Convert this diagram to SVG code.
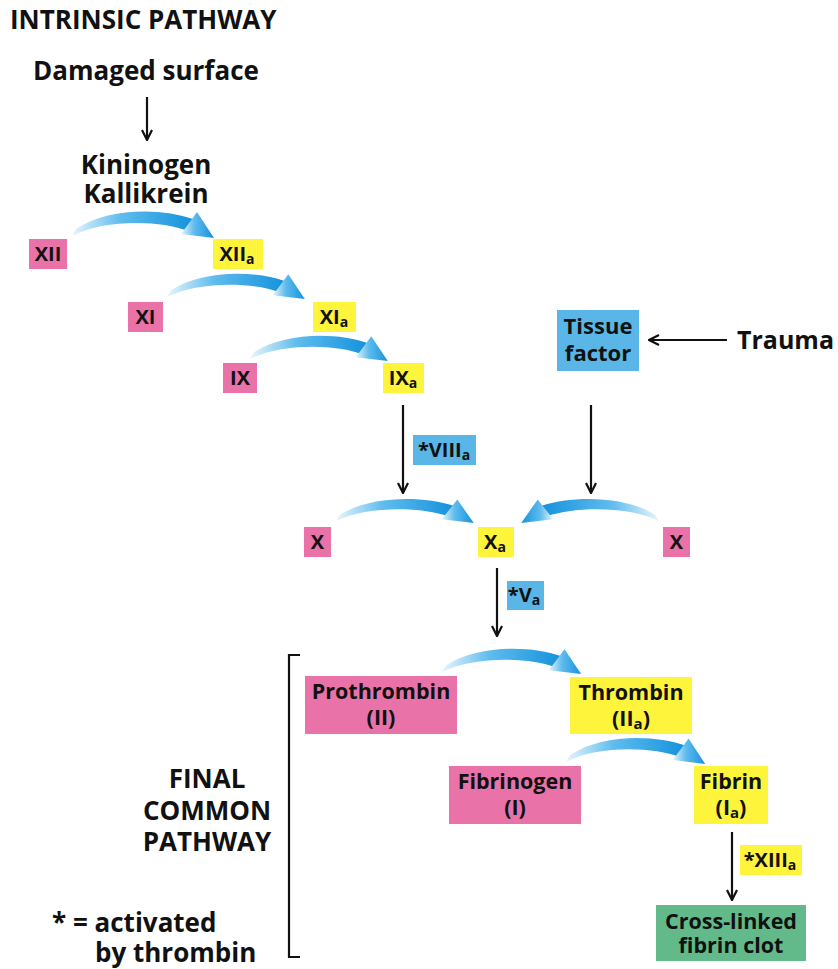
<svg xmlns="http://www.w3.org/2000/svg" width="838" height="969" viewBox="0 0 838 969">
<defs>
<style>
text{font-family:"Open Sans","Noto Sans","DejaVu Sans",sans-serif;font-weight:bold;fill:#111;}
.t{font-size:26px;}
.b{font-size:20px;text-anchor:middle;}
.m{font-size:21.5px;text-anchor:middle;}
.pink{fill:#e973a8;}
.yel{fill:#fff43c;}
.blu{fill:#5ab6e6;}
.grn{fill:#62b98a;}
.ln{stroke:#111;stroke-width:2.2;fill:none;}
.arc{fill:url(#g);}
</style>
<linearGradient id="g" x1="0" y1="0" x2="1" y2="0">
<stop offset="0" stop-color="#e8f5fc"/>
<stop offset="0.4" stop-color="#5fbcee"/>
<stop offset="1" stop-color="#1592dc"/>
</linearGradient>
<marker id="ah" viewBox="0 0 12 12" refX="11" refY="6" markerWidth="12" markerHeight="12" markerUnits="userSpaceOnUse" orient="auto">
<path d="M1,1 L11,6 L1,11" fill="none" stroke="#111" stroke-width="2.2"/>
</marker>
<g id="arc">
<path d="M3,-8 C35,-30 90,-29 120,-18 L115,-6 C88,-17 30,-18 -1,-1 Z"/>
<path d="M124,-25 L141,1 L108,-3 Z"/>
</g>
</defs>

<g id="titles">
<text class="t" x="10" y="29">INTRINSIC PATHWAY</text>
<text class="t" x="146" y="80" text-anchor="middle">Damaged surface</text>
<text class="t" text-anchor="middle"><tspan x="146" y="174">Kininogen</tspan><tspan x="146" y="203">Kallikrein</tspan></text>
<text class="t" x="737" y="349" style="font-size:25px">Trauma</text>
<text class="t" text-anchor="middle"><tspan x="207" y="788">FINAL</tspan><tspan x="207" y="820">COMMON</tspan><tspan x="207" y="851">PATHWAY</tspan></text>
<text class="t"><tspan x="52" y="932">* = activated</tspan><tspan x="95" y="962">by thrombin</tspan></text>
</g>

<g id="connectors">
<line class="ln" x1="147" y1="97" x2="147" y2="140" marker-end="url(#ah)"/>
<line class="ln" x1="727" y1="340" x2="649" y2="340" marker-end="url(#ah)"/>
<line class="ln" x1="403" y1="405" x2="403" y2="493" marker-end="url(#ah)"/>
<line class="ln" x1="591" y1="405" x2="591" y2="493" marker-end="url(#ah)"/>
<line class="ln" x1="497" y1="568" x2="497" y2="636" marker-end="url(#ah)"/>
<line class="ln" x1="732" y1="832" x2="732" y2="900" marker-end="url(#ah)"/>
<path class="ln" d="M300,655 H289 V957 H300"/>
<g class="arc">
<use href="#arc" transform="translate(73,237)"/>
<use href="#arc" transform="translate(168,298) scale(0.97,0.95)"/>
<use href="#arc" transform="translate(251,360) scale(0.97,0.95)"/>
<use href="#arc" transform="translate(337,522) scale(0.97,0.9)"/>
<use href="#arc" transform="translate(658,522) scale(-0.97,0.9)"/>
<use href="#arc" transform="translate(443,673) scale(0.98,0.95)"/>
<use href="#arc" transform="translate(567,763) scale(0.98,0.98)"/>
</g>
</g>

<g id="XII"><rect class="pink" x="29" y="239" width="38" height="30"/><text class="b" x="48" y="261">XII</text></g>
<g id="XIIa"><rect class="yel" x="213" y="239" width="50" height="30"/><text class="b" x="237" y="261">XII<tspan font-size="14" dy="3">a</tspan></text></g>
<g id="XI"><rect class="pink" x="128" y="302" width="35" height="30"/><text class="b" x="145.5" y="324">XI</text></g>
<g id="XIa"><rect class="yel" x="313" y="302" width="43" height="30"/><text class="b" x="334" y="324">XI<tspan font-size="14" dy="3">a</tspan></text></g>
<g id="IX"><rect class="pink" x="223" y="363" width="34" height="30"/><text class="b" x="240" y="385">IX</text></g>
<g id="IXa"><rect class="yel" x="383" y="363" width="41" height="30"/><text class="b" x="403" y="385">IX<tspan font-size="14" dy="3">a</tspan></text></g>
<g id="TissueFactor"><rect class="blu" x="557" y="310" width="82" height="61"/><text class="m" style="font-size:22px"><tspan x="598" y="334">Tissue</tspan><tspan x="598" y="361">factor</tspan></text></g>
<g id="VIIIa"><rect class="blu" x="413" y="435" width="63" height="30"/><text class="b" x="444" y="457">*VIII<tspan font-size="14" dy="3">a</tspan></text></g>
<g id="Xleft"><rect class="pink" x="304" y="527" width="27" height="30"/><text class="b" x="317.5" y="549">X</text></g>
<g id="Xa"><rect class="yel" x="478" y="527" width="36" height="30"/><text class="b" x="495" y="549">X<tspan font-size="14" dy="3">a</tspan></text></g>
<g id="Xright"><rect class="pink" x="663" y="527" width="27" height="30"/><text class="b" x="676.5" y="549">X</text></g>
<g id="Va"><rect class="blu" x="507" y="581" width="37" height="29"/><text class="b" x="524" y="602">*V<tspan font-size="14" dy="3">a</tspan></text></g>
<g id="Prothrombin"><rect class="pink" x="305" y="676" width="152" height="58"/><text class="m"><tspan x="381" y="699">Prothrombin</tspan><tspan x="381" y="725">(II)</tspan></text></g>
<g id="Thrombin"><rect class="yel" x="570" y="677" width="122" height="57"/><text class="m"><tspan x="631" y="700">Thrombin</tspan><tspan x="631" y="726">(II<tspan font-size="15" dy="3">a</tspan><tspan dy="-3">)</tspan></tspan></text></g>
<g id="Fibrinogen"><rect class="pink" x="449" y="766" width="132" height="58"/><text class="m"><tspan x="515" y="789">Fibrinogen</tspan><tspan x="515" y="815">(I)</tspan></text></g>
<g id="Fibrin"><rect class="yel" x="694" y="766" width="74" height="58"/><text class="m"><tspan x="731" y="789">Fibrin</tspan><tspan x="731" y="815">(I<tspan font-size="15" dy="3">a</tspan><tspan dy="-3">)</tspan></tspan></text></g>
<g id="XIIIa"><rect class="yel" x="740" y="845" width="62" height="30"/><text class="b" x="770" y="867">*XIII<tspan font-size="14" dy="3">a</tspan></text></g>
<g id="Clot"><rect class="grn" x="656" y="905" width="150" height="56"/><text class="m"><tspan x="731" y="929">Cross-linked</tspan><tspan x="731" y="953">fibrin clot</tspan></text></g>
</svg>
